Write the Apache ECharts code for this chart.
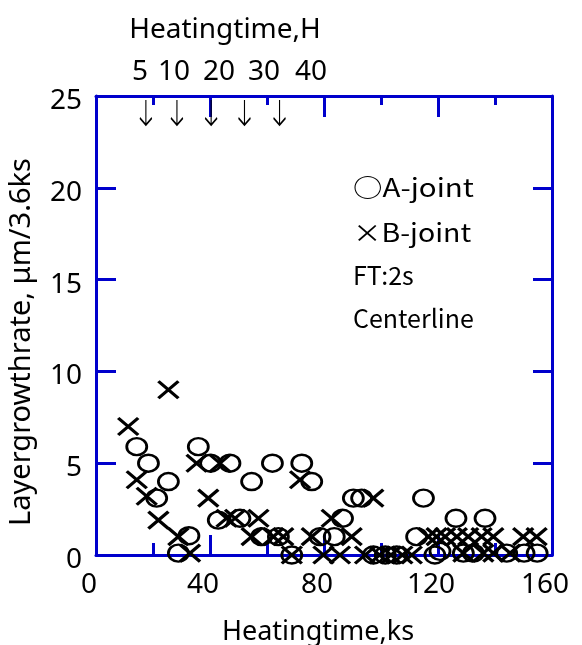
<!DOCTYPE html>
<html>
<head>
<meta charset="utf-8">
<script src="https://cdn.jsdelivr.net/npm/echarts@6/dist/echarts.min.js"></script>
<style>html,body{margin:0;padding:0;background:#fff}#c{width:582px;height:645px}</style>
</head>
<body>
<div id="c"></div>
<script>
// A-joint (circles): [heating time ks, layer growth rate um/3.6ks]
const aJoint = [
  [14.3,5.9],[18.4,5.0],[21.3,3.1],[25.4,4.0],[28.9,0.1],[32.6,1.05],[35.9,5.9],[40.2,5.0],
  [42.9,1.9],[47.0,5.0],[50.5,2.0],[54.6,4.0],[58.1,1.0],[61.9,5.0],[64.0,1.0],[68.7,0.0],
  [72.2,5.0],[75.7,4.0],[78.6,1.0],[83.6,1.0],[86.5,2.0],[90.3,3.1],[93.2,3.1],[97.3,0.0],
  [101.5,0.0],[105.5,0.0],[112.5,1.0],[114.9,3.1],[118.9,0.0],[120.7,0.2],[126.3,2.0],
  [128.9,0.1],[132.4,0.1],[136.5,2.0],[144.1,0.1],[150.2,0.1],[154.8,0.1]
];
// B-joint (crosses)
const bJoint = [
  [11.3,7.0],[14.3,4.1],[17.8,3.2],[21.9,1.9],[25.4,9.0],[28.9,1.0],[33.0,0.1],[35.3,5.0],
  [39.4,3.1],[43.5,5.0],[45.8,2.0],[48.8,2.0],[54.6,1.0],[57.0,2.0],[62.2,1.0],[65.7,1.0],
  [68.7,0.0],[71.6,4.1],[75.7,1.0],[79.8,0.0],[82.7,2.0],[85.6,0.0],[89.7,1.0],[94.4,0.0],
  [97.3,3.1],[99.5,0.0],[103.5,0.0],[107.5,0.0],[110.8,0.0],[116.6,1.0],[119.5,1.0],
  [122.5,1.0],[126.6,1.0],[128.9,0.1],[130.6,1.0],[135.3,1.0],[135.9,0.1],[139.4,1.0],
  [139.4,0.1],[145.3,0.1],[149.9,1.0],[154.6,1.0]
];
// heating-time arrows (ks) and their hour labels
const arrowX = [17.5, 28.4, 40.4, 52.1, 64.4];
const arrowY = 24.1;
const hourLabels = ['5', '10', '20', '30', '40'];
const xTicks = [0, 40, 80, 120, 160];
const yTicks = [0, 5, 10, 15, 20, 25];

const FONT = '"Noto Sans",sans-serif';
const JFONT = '"Noto Sans CJK JP","Noto Sans",sans-serif';
const BLUE = '#0000cc';
const chart = echarts.init(document.getElementById('c'));

const axisCommon = {
  axisLine: {show: true, onZero: false, lineStyle: {color: BLUE, width: 3}},
  splitLine: {show: false}
};

const hourX = [140, 174, 219, 264, 311];

chart.setOption({
  animation: false,
  backgroundColor: '#fff',
  grid: {left: 96, right: 30, top: 96, bottom: 90, containLabel: false},
  xAxis: [
    Object.assign({}, axisCommon, {
      type: 'value', position: 'bottom', min: 0, max: 160, interval: 40,
      axisTick: {show: true, inside: true, length: 20, lineStyle: {color: BLUE, width: 3}},
      minorTick: {show: true, splitNumber: 2, length: 12, lineStyle: {color: BLUE, width: 3}},
      axisLabel: {fontFamily: FONT, fontSize: 28, color: '#000', margin: 16, padding: [0, 14, 0, 0],
        formatter: v => xTicks.includes(v) ? String(v) : ''}
    }),
    Object.assign({}, axisCommon, {
      type: 'value', position: 'top', min: 0, max: 160, interval: 40,
      axisTick: {show: true, inside: true, length: 21, lineStyle: {color: BLUE, width: 3}},
      minorTick: {show: true, splitNumber: 2, length: 9, lineStyle: {color: BLUE, width: 3}},
      axisLabel: {show: false}
    })
  ],
  yAxis: [
    Object.assign({}, axisCommon, {
      type: 'value', position: 'left', min: 0, max: 25, interval: 5,
      axisTick: {show: true, inside: true, length: 20, lineStyle: {color: BLUE, width: 3}},
      axisLabel: {fontFamily: FONT, fontSize: 28, color: '#000', margin: 14,
        verticalAlign: 'top', lineHeight: 18, padding: [-4, 0, 0, 0],
        formatter: v => yTicks.includes(v) ? String(v) : ''}
    }),
    Object.assign({}, axisCommon, {
      type: 'value', position: 'right', min: 0, max: 25, interval: 5,
      axisTick: {show: true, inside: true, length: 19, lineStyle: {color: BLUE, width: 3}},
      axisLabel: {show: false}
    })
  ],
  series: [
    {
      name: 'A-joint', type: 'scatter', data: aJoint, symbol: 'circle', symbolSize: [20, 17],
      itemStyle: {color: 'transparent', borderColor: '#000', borderWidth: 2.6, opacity: 1},
      z: 3
    },
    {
      name: 'B-joint', type: 'scatter', data: bJoint,
      symbol: 'path://M0,0L20,18M20,0L0,18', symbolSize: [20, 17],
      itemStyle: {color: 'transparent', borderColor: '#000', borderWidth: 3.2, opacity: 1},
      z: 4
    },
    {
      name: 'arrows', type: 'scatter', data: arrowX.map(x => [x, arrowY]),
      symbol: 'path://M5,0L5,25M0,18L5,25L10,18', symbolSize: [12, 25],
      itemStyle: {color: 'transparent', borderColor: '#000', borderWidth: 1.6, opacity: 1},
      z: 5
    }
  ],
  graphic: [
    {type: 'text', x: 225, y: 30, style: {text: 'Heatingtime,H', font: '28px ' + FONT, fill: '#000', align: 'center', verticalAlign: 'middle'}},
    ...hourLabels.map((t, i) => ({type: 'text', x: hourX[i], y: 72,
      style: {text: t, font: '28px ' + FONT, fill: '#000', align: 'center', verticalAlign: 'middle'}})),
    {type: 'text', x: 318, y: 632, style: {text: 'Heatingtime,ks', font: '27px ' + FONT, fill: '#000', align: 'center', verticalAlign: 'middle'}},
    {type: 'text', x: 22, y: 342, rotation: Math.PI / 2,
      style: {text: 'Layergrowthrate, μm/3.6ks', font: '29px ' + FONT, fill: '#000', align: 'center', verticalAlign: 'middle'}},
    {type: 'text', x: 353, y: 187, scaleX: 1.18, style: {text: '○A-joint', font: '25px ' + JFONT, fill: '#000', verticalAlign: 'middle'}},
    {type: 'text', x: 353, y: 232, scaleX: 1.14, style: {text: '×B-joint', font: '25px ' + JFONT, fill: '#000', verticalAlign: 'middle'}},
    {type: 'text', x: 353, y: 275, style: {text: 'FT:2s', font: '25px ' + JFONT, fill: '#000', verticalAlign: 'middle'}},
    {type: 'text', x: 353, y: 318, style: {text: 'Centerline', font: '25px ' + JFONT, fill: '#000', verticalAlign: 'middle'}}
  ]
});
</script>
</body>
</html>
